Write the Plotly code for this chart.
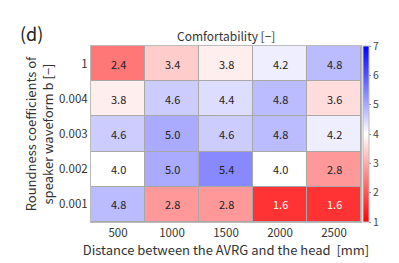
import plotly.graph_objects as go

distances = [500, 1000, 1500, 2000, 2500]
roundness = ["0.001", "0.002", "0.003", "0.004", "1"]  # bottom to top
comfort = [
    [4.8, 2.8, 2.8, 1.6, 1.6],   # 0.001
    [4.0, 5.0, 5.4, 4.0, 2.8],   # 0.002
    [4.6, 5.0, 4.6, 4.8, 4.2],   # 0.003
    [3.8, 4.6, 4.4, 4.8, 3.6],   # 0.004
    [2.4, 3.4, 3.8, 4.2, 4.8],   # 1
]
cbar_ticks = [1, 2, 3, 4, 5, 6, 7]

FONT = "Noto Sans CJK JP"
ypos = list(range(len(roundness)))

fig = go.Figure()
fig.add_trace(go.Heatmap(
    x=distances, y=ypos, z=comfort,
    zmin=1, zmax=7,
    colorscale=[[0, "rgb(255,0,0)"], [0.5, "rgb(255,255,255)"], [1, "rgb(0,0,255)"]],
    xgap=1, ygap=1,
    colorbar=dict(
        thickness=6, len=1, lenmode="fraction", y=0.5, yanchor="middle",
        x=1.008, xanchor="left", xpad=0, ypad=0,
        outlinewidth=1, outlinecolor="#bbbbbb",
        tickvals=cbar_ticks, ticks="outside", ticklen=2, tickcolor="#888",
        tickfont=dict(size=10.5, color="#444", family=FONT),
    ),
    hoverinfo="skip",
))

for i, yp in enumerate(ypos):
    for j, d in enumerate(distances):
        v = comfort[i][j]
        fig.add_annotation(
            x=d, y=yp, text=f"{v:.1f}", showarrow=False,
            font=dict(size=11, family=FONT, color="white" if v < 2 else "#222"),
        )

fig.add_annotation(
    xref="paper", yref="paper", x=0.5, y=1.0, yanchor="bottom", yshift=0,
    text="Comfortability [−]", showarrow=False,
    font=dict(size=12, family=FONT, color="#333"),
)
fig.add_annotation(
    xref="paper", yref="paper", x=-0.27, y=1.075, xanchor="left", yanchor="middle",
    text="(d)", showarrow=False,
    font=dict(size=18, family=FONT, color="#222"),
)

fig.update_layout(
    width=399, height=263,
    margin=dict(l=83, r=46, t=38, b=49, autoexpand=False),
    paper_bgcolor="white",
    plot_bgcolor="#a8a8a8",
    font=dict(family=FONT, color="#333"),
    xaxis=dict(
        showgrid=False, zeroline=False, ticks="", automargin=False,
        tickvals=distances, range=[250, 2750],
        tickfont=dict(size=11.5, color="#333"),
        title=dict(text="Distance between the AVRG and the head  [mm]",
                   font=dict(size=13, color="#333"), standoff=0),
        showline=True, linecolor="#bbbbbb", linewidth=1, mirror=True,
    ),
    yaxis=dict(
        showgrid=False, zeroline=False, ticks="", automargin=False,
        tickvals=ypos, ticktext=roundness, range=[-0.5, len(roundness) - 0.5],
        tickfont=dict(size=11.5, color="#333"),
        title=dict(text="Roundness coefficients of<br>speaker waveform b [−]",
                   font=dict(size=13, color="#333"), standoff=2),
        showline=True, linecolor="#bbbbbb", linewidth=1, mirror=True,
    ),
)

fig.write_html("out.html")
